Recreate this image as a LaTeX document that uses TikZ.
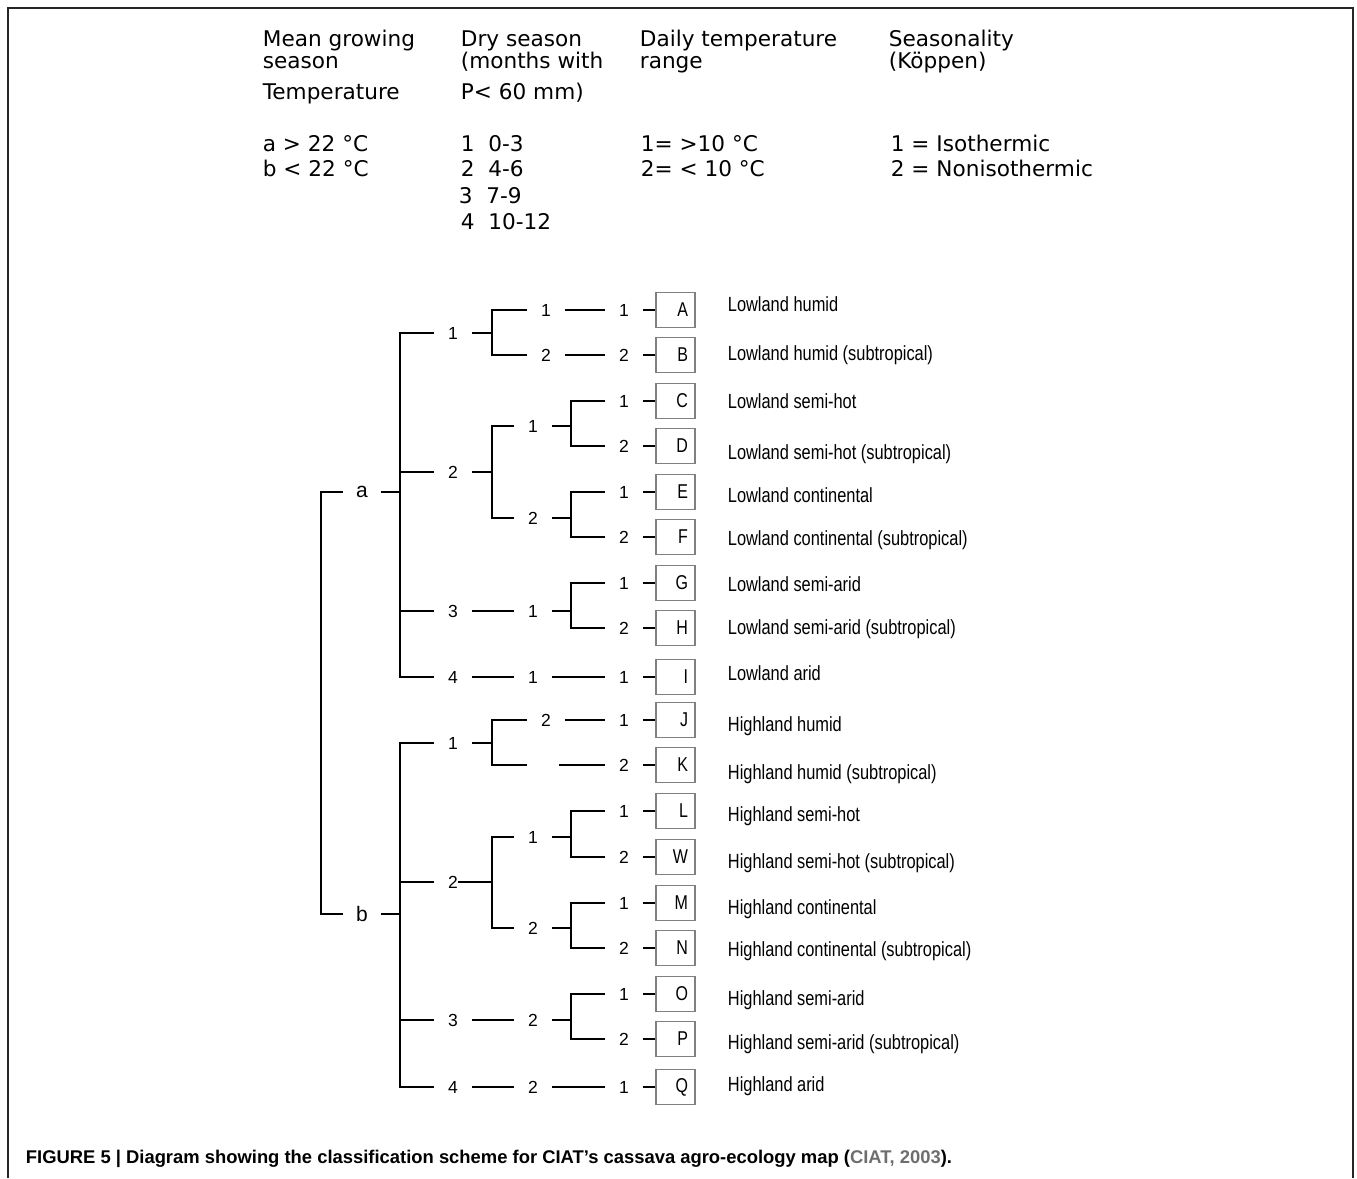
\documentclass[tikz,border=0pt]{standalone}
\usepackage{fontspec}
\setmainfont{Liberation Sans}
\newfontfamily\headfont{DejaVu Sans}
\newfontfamily\narrowfont[FakeStretch=0.8]{Liberation Sans}
\definecolor{citegray}{HTML}{6E6E6E}
\definecolor{boxgray}{HTML}{808080}
\begin{document}
\begin{tikzpicture}
  [x=1pt,y=-1pt,line width=1.8pt,
   headtxt/.style={anchor=base west,inner sep=0pt,font=\headfont\fontsize{21.6}{26}\selectfont},
   lvl/.style={inner xsep=13pt,inner ysep=0pt,font=\fontsize{17.5}{20}\selectfont},
   rootlbl/.style={inner xsep=12pt,inner ysep=0pt,font=\fontsize{21}{24}\selectfont},
   leaf/.style={draw=boxgray,line width=1.3pt,minimum height=35pt,text width=25pt,align=right,
     inner xsep=7pt,inner ysep=0pt,font=\narrowfont\fontsize{20}{22}\selectfont},
   desc/.style={anchor=base west,inner sep=0pt,font=\narrowfont\fontsize{20.5}{24}\selectfont}]
  \useasboundingbox (0,0) rectangle (1357,1178);
  \draw[black!85,line width=2pt] (8,1178) -- (8,8) -- (1353,8) -- (1353,1178);

  \foreach \hx/\hy/\txt [count=\i] in {262/46.5/Mean growing, 262/68.5/season, 262/99/Temperature,
      262/151/a > 22 °C, 262/176.5/b < 22 °C,
      460/46.5/Dry season, 460/68.5/{(months with}, 460/99/{P< 60 mm)},
      460/151/1\ \ 0-3, 460/176.5/2\ \ 4-6, 458/203/3\ \ 7-9, 460/229/4\ \ 10-12,
      639/46.5/Daily temperature, 639/68.5/range, 640/151/1= >10 °C, 640/176.5/2= < 10 °C,
      888/46.5/Seasonality, 888/68.5/{(Köppen)}, 890/151/1 = Isothermic, 890/176.5/2 = Nonisothermic}
    \node[headtxt] (h\i) at (\hx,\hy) {\txt};

  \foreach \sv/\lt/\ly/\dy/\txt in {1/A/310/311/Lowland humid, 2/B/355/360/Lowland humid (subtropical),
      1/C/401/408/Lowland semi-hot, 2/D/446/459/Lowland semi-hot (subtropical),
      1/E/492/502/Lowland continental, 2/F/537/545/Lowland continental (subtropical),
      1/G/583/591/Lowland semi-arid, 2/H/628/634/Lowland semi-arid (subtropical),
      1/I/677/680/Lowland arid,
      1/J/720/731/Highland humid, 2/K/765/779/Highland humid (subtropical),
      1/L/811/821/Highland semi-hot, 2/W/857/868/Highland semi-hot (subtropical),
      1/M/903/914/Highland continental, 2/N/948/956/Highland continental (subtropical),
      1/O/994/1005/Highland semi-arid, 2/P/1039/1049/Highland semi-arid (subtropical),
      1/Q/1087/1091/Highland arid}
  {
    \node[lvl] (s\lt) at (624,\ly) {\sv};
    \node[leaf] (\lt) at (675.5,\ly) {\lt};
    \node[desc] (d\lt) at (727,\dy) {\txt};
    \draw (s\lt) -- (\lt);
  }

  \node[rootlbl] (a) at (362,492) {a};
  \node[rootlbl] (b) at (362,914) {b};
  \foreach \k/\y in {1/333,2/472,3/611,4/677}
    \node[lvl] (a\k) at (453,\y) {\k};
  \foreach \k/\y in {1/743,2/882,3/1020,4/1087}
    \node[lvl] (b\k) at (453,\y) {\k};
  \node[lvl] (a11) at (546,310) {1};
  \node[lvl] (a12) at (546,355) {2};
  \node[lvl] (a21) at (533,426) {1};
  \node[lvl] (a22) at (533,518) {2};
  \node[lvl] (a31) at (533,611) {1};
  \node[lvl] (a41) at (533,677) {1};
  \node[lvl] (b11) at (546,720) {2};
  \node[lvl] (b21) at (533,837) {1};
  \node[lvl] (b22) at (533,928) {2};
  \node[lvl] (b31) at (533,1020) {2};
  \node[lvl] (b41) at (533,1087) {2};

  \foreach \n/\x/\y in {root/321/703, ja/400/492, jb/400/914, ja1/492/333, ja2/492/472,
      ja21/571/426, ja22/571/518, ja31/571/611, jb1/492/743, b12/543/765, jb2/492/882,
      jb21/571/837, jb22/571/928, jb31/571/1020}
    \coordinate (\n) at (\x,\y);

  \foreach \from/\to in {a/ja, b/jb, a1/ja1, a11/sA, a12/sB, a2/ja2, a21/ja21, a22/ja22,
      a3/a31, a31/ja31, a4/a41, a41/sI, b1/jb1, b11/sJ, b21/jb21, b22/jb22,
      b3/b31, b31/jb31, b4/b41, b41/sQ}
    \draw (\from) -- (\to);
  \foreach \from/\to in {root/a, root/b, ja/a1, ja/a2, ja/a3, ja/a4, jb/b1, jb/b2, jb/b3, jb/b4,
      ja1/a11, ja1/a12, ja2/a21, ja2/a22, ja21/sC, ja21/sD, ja22/sE, ja22/sF, ja31/sG, ja31/sH,
      jb1/b11, jb2/b21, jb2/b22, jb21/sL, jb21/sW, jb22/sM, jb22/sN, jb31/sO, jb31/sP}
    \draw (\from) |- (\to);
  \draw[shorten >=16pt] (jb1) |- (b12);
  \draw[shorten <=16pt] (b12) -- (sK);
  \draw ([xshift=5pt]b2.center) -- (jb2);

  \node[anchor=base west,inner sep=0pt,font=\bfseries\fontsize{18.4}{22}\selectfont] (cap) at (25,1163)
    {FIGURE 5 | Diagram showing the classification scheme for CIAT’s cassava agro-ecology map (\textcolor{citegray}{CIAT, 2003}).};
\end{tikzpicture}
\end{document}
